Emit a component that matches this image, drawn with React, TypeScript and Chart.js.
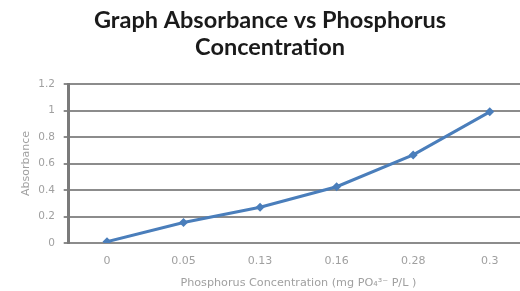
import React, { useEffect, useRef } from "react";
import { Chart, registerables } from "chart.js";

Chart.register(...registerables);

const categories = ["0", "0.05", "0.13", "0.16", "0.28", "0.3"];
const absorbance = [0.01, 0.155, 0.27, 0.425, 0.665, 0.99];
const titleLines = ["Graph Absorbance vs Phosphorus", "Concentration"];
const yTitle = "Absorbance";
const xTitle = "Phosphorus Concentration (mg PO\u2084\u00B3\u207B P/L )";

export default function App() {
  const ref = useRef<HTMLCanvasElement | null>(null);
  useEffect(() => {
    const canvas = ref.current!;
    const chart = new Chart(canvas, {
      type: "line",
      data: {
        labels: categories,
        datasets: [
          {
            data: absorbance,
            borderColor: "#4a7ebb",
            backgroundColor: "#4a7ebb",
            borderWidth: 3,
            pointStyle: "rectRot",
            pointRadius: 4.5,
            pointBorderWidth: 0,
            tension: 0,
          },
        ],
      },
      options: {
        animation: false,
        responsive: false,
        maintainAspectRatio: false,
        layout: { padding: { left: 12, right: 22, top: 0, bottom: 0 } },
        plugins: {
          legend: { display: false },
          tooltip: { enabled: false },
          title: {
            display: true,
            text: titleLines,
            color: "#1a1a1a",
            font: { family: "Lato", size: 23.5, weight: "bold", lineHeight: 1.15 },
            padding: { top: 6.5, bottom: 23.5 },
          },
        },
        scales: {
          x: {
            type: "category",
            offset: true,
            grid: { display: false, drawTicks: false },
            border: { display: false },
            ticks: {
              color: "#a0a0a0",
              font: { family: "DejaVu Sans", size: 11 },
              padding: 12,
            },
            title: {
              display: true,
              text: xTitle,
              color: "#a0a0a0",
              font: { family: "DejaVu Sans", size: 11.2 },
              padding: { top: 0, bottom: 1 },
            },
            afterFit: (s: any) => {
              s.height = 48;
            },
          },
          y: {
            min: 0,
            max: 1.2,
            ticks: {
              stepSize: 0.2,
              color: "#a0a0a0",
              font: { family: "DejaVu Sans", size: 10.5 },
              padding: 8.7,
              callback: (v: any) => String(Number(Number(v).toFixed(1))),
            },
            grid: {
              color: "#8c8c8c",
              lineWidth: 2,
              drawTicks: true,
              tickLength: 5,
              tickColor: "#8c8c8c",
            },
            border: { display: true, color: "#7a7a7a", width: 3 },
            title: {
              display: true,
              text: yTitle,
              color: "#a0a0a0",
              font: { family: "DejaVu Sans", size: 11 },
              padding: { top: 8, bottom: 0 },
            },
            afterFit: (s: any) => {
              s.width = 56.7;
            },
          },
        },
      },
    });
    return () => chart.destroy();
  }, []);
  return (
    <div
      style={{
        position: "fixed",
        left: 0,
        top: 0,
        width: 550,
        height: 291,
        background: "#ffffff",
      }}
    >
      <canvas ref={ref} width={550} height={291} style={{ display: "block" }} />
    </div>
  );
}
